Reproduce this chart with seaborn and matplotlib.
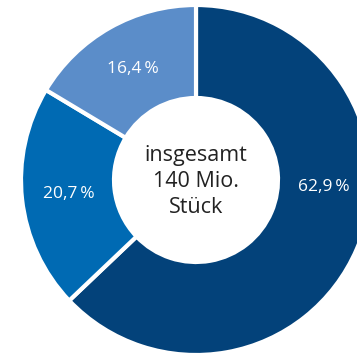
import numpy as np
import matplotlib
matplotlib.use('Agg')
import matplotlib.pyplot as plt
import seaborn as sns

# Daten
anteile = [62.9, 20.7, 16.4]
labels = ['62,9\u2009%', '20,7\u2009%', '16,4\u2009%']
farben = ['#03427a', '#006ab3', '#5b8dc9']
mitte_text = 'insgesamt\n140 Mio.\nStück'

sns.set_theme(style='white')
plt.rcParams['font.family'] = ['Open Sans', 'DejaVu Sans']

fig = plt.figure(figsize=(3.57, 3.60), dpi=100)
ax = fig.add_axes([0, 0, 1, 1])

wedges, _ = ax.pie(anteile, colors=sns.color_palette(farben), startangle=90,
                   counterclock=False, radius=1.0,
                   wedgeprops=dict(width=1.0 - 82 / 175, edgecolor='white', linewidth=3))

# Beschriftungen der Segmente (62,9 % etwas nach oben verschoben, wie im Original)
r_lab = 0.73
for w, lab, i in zip(wedges, labels, range(3)):
    ang = (w.theta1 + w.theta2) / 2
    if i == 0:
        ang = -3
    x = r_lab * np.cos(np.deg2rad(ang))
    y = r_lab * np.sin(np.deg2rad(ang))
    ax.text(x, y, lab, color='white', fontsize=12.5, ha='center', va='center')

ax.text(0, -0.01, mitte_text, ha='center', va='center', fontsize=15.5,
        color='#222222', linespacing=1.3)

ax.set_xlim(-196 / 175, (357 - 196) / 175)
ax.set_ylim(-180 / 175, 180 / 175)
ax.set_aspect('auto')
ax.axis('off')

fig.savefig('out.png', dpi=100)
